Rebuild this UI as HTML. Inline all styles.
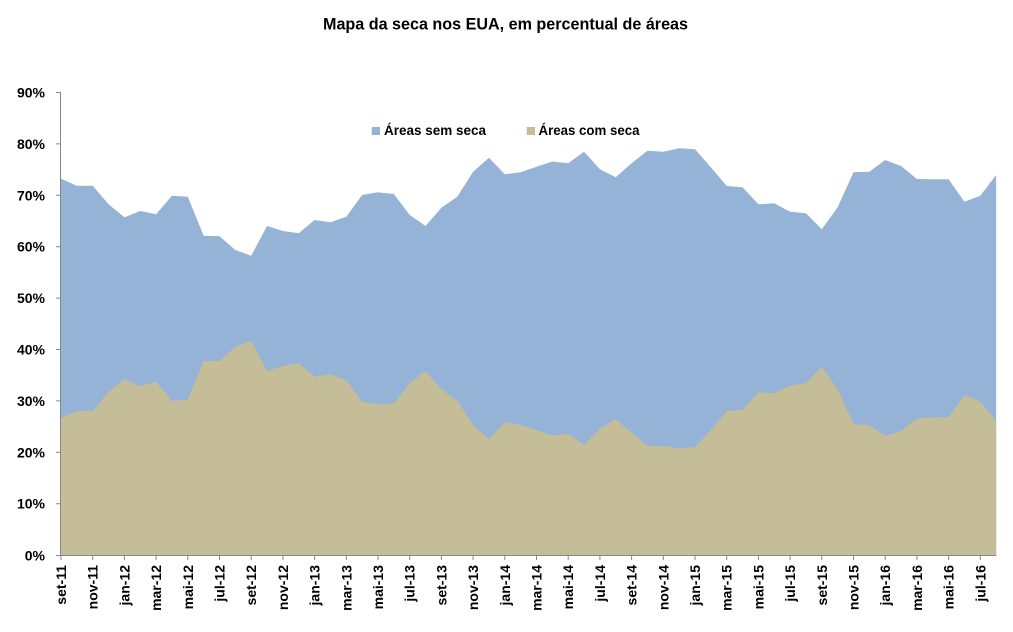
<!DOCTYPE html>
<html><head><meta charset="utf-8"><style>
html,body{margin:0;padding:0;background:#fff;}
svg{display:block;}
text{font-family:"Liberation Sans",Arial,sans-serif;font-weight:bold;fill:#000;}
</style></head><body>
<svg width="1013" height="632" viewBox="0 0 1013 632" xmlns="http://www.w3.org/2000/svg">
<rect width="1013" height="632" fill="#fff"/>
<text x="505.5" y="29.5" font-size="17" text-anchor="middle" textLength="365" lengthAdjust="spacingAndGlyphs">Mapa da seca nos EUA, em percentual de áreas</text>

<polygon fill="#95B3D7" points="61,555 61,178.7 76.85,185.7 92.7,185.7 108.55,204.3 124.4,217.3 140.25,211 156.1,214.3 171.95,195.7 187.8,196.7 203.65,235.7 219.5,236.3 235.35,250 251.2,255.7 267.05,226 282.9,231 298.75,233.3 314.6,220 330.45,222.3 346.3,216.7 362.15,195 378,192.3 393.85,194 409.7,215 425.55,226 441.4,207.7 457.25,196.7 473.1,171.7 488.95,157.7 504.8,174.3 520.65,172.3 536.5,166.7 552.35,161.5 568.2,163.3 584.05,151.7 599.9,169.3 615.75,177.3 631.6,163.3 647.45,150.7 663.3,151.7 679.15,148.3 695,149.3 710.85,167.3 726.7,186 742.55,187.3 758.4,204.3 774.25,203.3 790.1,211.7 805.95,213.3 821.8,229.3 837.65,207.3 853.5,172.3 869.35,171.7 885.2,160 901.05,166 916.9,179 932.75,179.3 948.6,179.3 964.45,201.7 980.3,195.7 996.15,175 996.15,555"/>

<polygon fill="#C4BD97" points="61,555 61,418 76.85,411 92.7,411 108.55,392 124.4,379.3 140.25,386 156.1,381.7 171.95,400.7 187.8,399.7 203.65,361 219.5,361 235.35,346.7 251.2,341 267.05,371 282.9,366 298.75,363.3 314.6,376.7 330.45,374.3 346.3,380 362.15,401.7 378,404.3 393.85,403.3 409.7,383.3 425.55,370.7 441.4,389.3 457.25,400.7 473.1,425 488.95,439.3 504.8,422.3 520.65,425 536.5,430 552.35,435.5 568.2,434 584.05,445 599.9,428.3 615.75,419.3 631.6,432.7 647.45,446 663.3,445.7 679.15,448.3 695,447.3 710.85,430 726.7,411 742.55,410 758.4,392.3 774.25,393.3 790.1,385.7 805.95,383.3 821.8,366.7 837.65,389.3 853.5,424.3 869.35,425 885.2,436 901.05,431 916.9,418.3 932.75,417.3 948.6,417.3 964.45,395 980.3,401.7 996.15,421 996.15,555"/>

<!-- axes -->
<g stroke="#868686" stroke-width="1" fill="none">
<line x1="60.5" y1="92" x2="60.5" y2="555.5"/>
<line x1="60.5" y1="555.5" x2="996.5" y2="555.5"/>
<path d="M56,92.5H61M56,143.9H61M56,195.3H61M56,246.7H61M56,298.1H61M56,349.5H61M56,400.9H61M56,452.3H61M56,503.7H61M56,555.5H61"/>
<path d="M61,555V560M92.7,555V560M124.4,555V560M156.1,555V560M187.8,555V560M219.5,555V560M251.2,555V560M282.9,555V560M314.6,555V560M346.3,555V560M378,555V560M409.7,555V560M441.4,555V560M473.1,555V560M504.8,555V560M536.5,555V560M568.2,555V560M599.9,555V560M631.6,555V560M663.3,555V560M695,555V560M726.7,555V560M758.4,555V560M790.1,555V560M821.8,555V560M853.5,555V560M885.2,555V560M916.9,555V560M948.6,555V560M980.3,555V560"/>
</g>

<!-- y labels -->
<g font-size="14" text-anchor="end">
<text x="45" y="97.5">90%</text>
<text x="45" y="148.9">80%</text>
<text x="45" y="200.3">70%</text>
<text x="45" y="251.7">60%</text>
<text x="45" y="303.1">50%</text>
<text x="45" y="354.5">40%</text>
<text x="45" y="405.9">30%</text>
<text x="45" y="457.3">20%</text>
<text x="45" y="508.7">10%</text>
<text x="45" y="560.5">0%</text>
</g>

<!-- x labels -->
<g font-size="14" text-anchor="end">
<text transform="translate(66,565) rotate(-90)">set-11</text>
<text transform="translate(97.7,565) rotate(-90)">nov-11</text>
<text transform="translate(129.4,565) rotate(-90)">jan-12</text>
<text transform="translate(161.1,565) rotate(-90)">mar-12</text>
<text transform="translate(192.8,565) rotate(-90)">mai-12</text>
<text transform="translate(224.5,565) rotate(-90)">jul-12</text>
<text transform="translate(256.2,565) rotate(-90)">set-12</text>
<text transform="translate(287.9,565) rotate(-90)">nov-12</text>
<text transform="translate(319.6,565) rotate(-90)">jan-13</text>
<text transform="translate(351.3,565) rotate(-90)">mar-13</text>
<text transform="translate(383,565) rotate(-90)">mai-13</text>
<text transform="translate(414.7,565) rotate(-90)">jul-13</text>
<text transform="translate(446.4,565) rotate(-90)">set-13</text>
<text transform="translate(478.1,565) rotate(-90)">nov-13</text>
<text transform="translate(509.8,565) rotate(-90)">jan-14</text>
<text transform="translate(541.5,565) rotate(-90)">mar-14</text>
<text transform="translate(573.2,565) rotate(-90)">mai-14</text>
<text transform="translate(604.9,565) rotate(-90)">jul-14</text>
<text transform="translate(636.6,565) rotate(-90)">set-14</text>
<text transform="translate(668.3,565) rotate(-90)">nov-14</text>
<text transform="translate(700,565) rotate(-90)">jan-15</text>
<text transform="translate(731.7,565) rotate(-90)">mar-15</text>
<text transform="translate(763.4,565) rotate(-90)">mai-15</text>
<text transform="translate(795.1,565) rotate(-90)">jul-15</text>
<text transform="translate(826.8,565) rotate(-90)">set-15</text>
<text transform="translate(858.5,565) rotate(-90)">nov-15</text>
<text transform="translate(890.2,565) rotate(-90)">jan-16</text>
<text transform="translate(921.9,565) rotate(-90)">mar-16</text>
<text transform="translate(953.6,565) rotate(-90)">mai-16</text>
<text transform="translate(985.3,565) rotate(-90)">jul-16</text>
</g>

<!-- legend -->
<rect x="371.7" y="127" width="8.3" height="8" fill="#95B3D7"/>
<text x="384" y="135" font-size="14" textLength="102" lengthAdjust="spacingAndGlyphs">Áreas sem seca</text>
<rect x="526.7" y="127" width="8.3" height="8" fill="#C4BD97"/>
<text x="538.5" y="135" font-size="14" textLength="101" lengthAdjust="spacingAndGlyphs">Áreas com seca</text>
</svg>
</body></html>
